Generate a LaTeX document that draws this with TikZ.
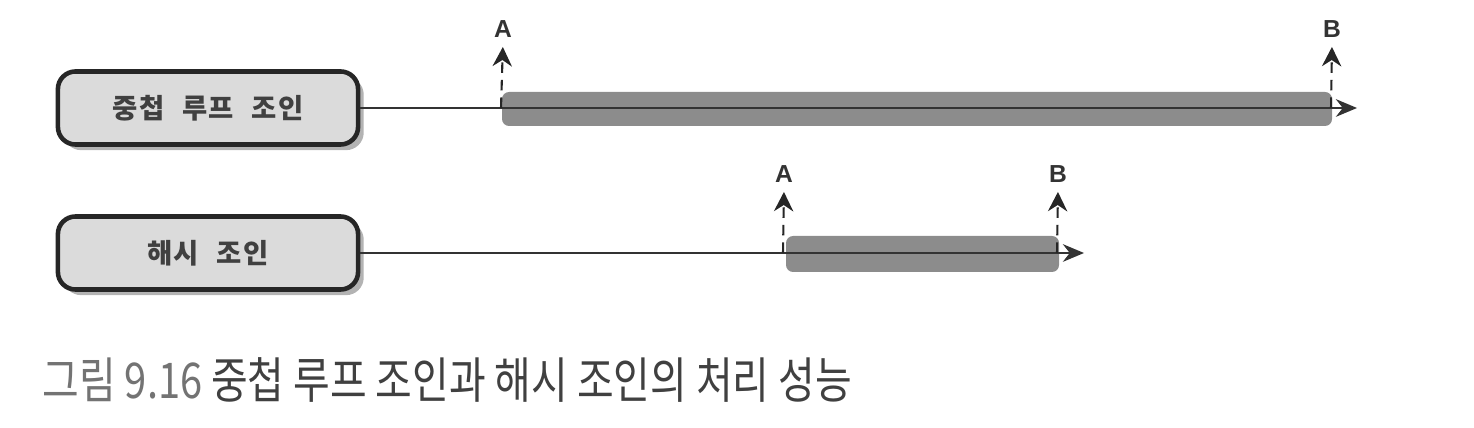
\documentclass[tikz,border=0pt]{standalone}
\usepackage{fontspec}
\setmainfont{Noto Sans CJK KR}
\newfontfamily\boxfont[LetterSpace=5,WordSpace=2.3]{Noto Sans CJK KR}
\newfontfamily\labfont{Liberation Sans}
\usetikzlibrary{shadows,arrows.meta,positioning}

\tikzset{
  joinbox/.style={draw=black!85, line width=1.3pt, fill=black!14, rounded corners=5pt,
    minimum width=3cm, minimum height=0.73cm, text=black!75,
    font=\boxfont\fontsize{7.8}{9}\selectfont\bfseries,
    drop shadow={shadow xshift=1.6pt, shadow yshift=-1.6pt, fill=black!50, opacity=0.6}},
  timeline/.style={draw=black!80, line width=0.7pt, -{Stealth[length=6pt,width=5pt]}},
  costbar/.style={fill=black!45, rounded corners=2pt},
  pointer/.style={draw=black!85, densely dashed, line width=0.6pt,
    -{Stealth[length=5.5pt,width=5.5pt]}, shorten >=1.5pt},
  marklabel/.style={font=\labfont\fontsize{7}{8}\selectfont\bfseries, text=black!80, inner sep=1pt},
}

\begin{document}
\begin{tikzpicture}[x=0.01cm,y=-0.01cm]
  \useasboundingbox (0,0) rectangle (1474,428);

  % nested loop join
  \node[joinbox] (nlj) at (208,108) {중첩 루프 조인};
  \coordinate (nljend) at (1357,108);
  \fill[costbar] (502,92) rectangle (1332,126);
  \draw[timeline] (nlj.east) -- (nljend);
  \node[marklabel] (nljA) at (503,29) {A};
  \node[marklabel] (nljB) at (1332,29) {B};
  \coordinate (nljAbase) at (501,108);
  \coordinate (nljBbase) at (1331,108);
  \draw[pointer] (nljAbase) -- (nljA.south);
  \draw[pointer] (nljBbase) -- (nljB.south);

  % hash join
  \node[joinbox] (hj) at (208,253) {해시 조인};
  \coordinate (hjend) at (1084,253);
  \fill[costbar] (786,236) rectangle (1059,272);
  \draw[timeline] (hj.east) -- (hjend);
  \node[marklabel] (hjA) at (784,174) {A};
  \node[marklabel] (hjB) at (1058,174) {B};
  \coordinate (hjAbase) at (783,253);
  \coordinate (hjBbase) at (1057,253);
  \draw[pointer] (hjAbase) -- (hjA.south);
  \draw[pointer] (hjBbase) -- (hjB.south);

  % caption
  \node[anchor=west, xscale=0.81, inner sep=0pt, font=\fontsize{14}{16}\selectfont] (cap) at (42,380)
    {\textcolor{black!55}{그림 9.16} \textcolor{black!75}{중첩 루프 조인과 해시 조인의 처리 성능}};
\end{tikzpicture}
\end{document}
